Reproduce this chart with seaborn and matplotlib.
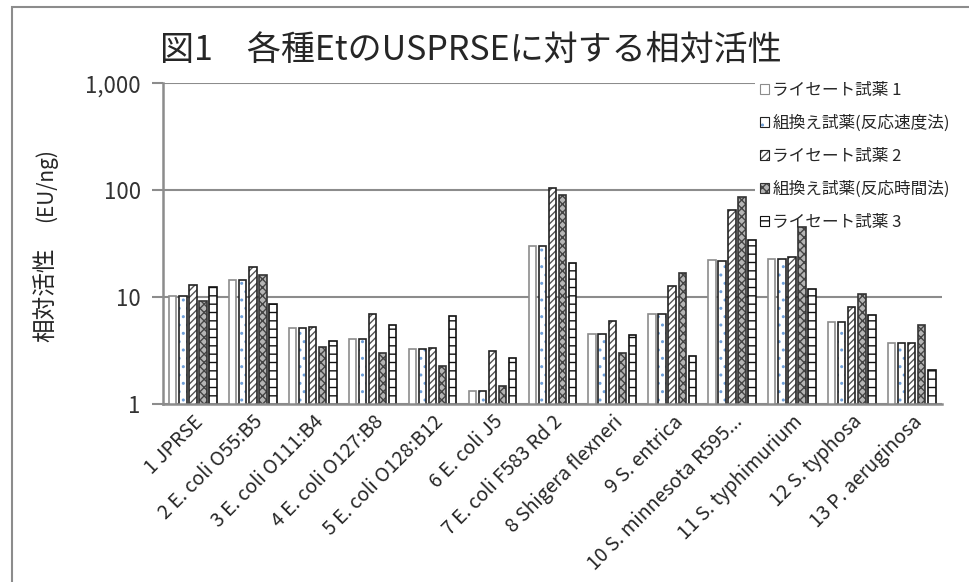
import numpy as np
import pandas as pd
import seaborn as sns
import matplotlib
matplotlib.use("Agg")
import matplotlib.pyplot as plt
from matplotlib.colors import to_rgba
from matplotlib.ticker import FixedLocator, FuncFormatter, NullLocator

strains = ["1 JPRSE", "2 E. coli O55:B5", "3 E. coli O111:B4", "4 E. coli O127:B8",
           "5 E. coli O128:B12", "6 E. coli J5", "7 E. coli F583 Rd 2", "8 Shigera flexneri",
           "9 S. entrica", "10 S. minnesota R595...", "11 S. typhimurium", "12 S. typhosa",
           "13 P. aeruginosa"]
reagents = ["ライセート試薬 1", "組換え試薬(反応速度法)", "ライセート試薬 2",
            "組換え試薬(反応時間法)", "ライセート試薬 3"]

lysate1 = [10.2, 14.4, 5.1, 4.0, 3.25, 1.31, 30.2, 4.5, 6.9, 22.0, 22.5, 5.8, 3.72]
recomb_rate = [10.3, 14.4, 5.1, 4.0, 3.23, 1.31, 30.0, 4.45, 6.9, 21.9, 22.5, 5.8, 3.72]
lysate2 = [12.9, 19.1, 5.25, 6.9, 3.3, 3.1, 104, 5.9, 12.6, 64.6, 23.8, 8.1, 3.66]
recomb_time = [9.2, 16.1, 3.36, 3.0, 2.27, 1.45, 90, 3.0, 16.6, 87, 45.4, 10.6, 5.47]
lysate3 = [12.4, 8.55, 3.9, 5.5, 6.6, 2.67, 20.6, 4.4, 2.8, 34.1, 11.9, 6.8, 2.07]

series = [lysate1, recomb_rate, lysate2, recomb_time, lysate3]
df = pd.DataFrame({
    "strain": np.tile(strains, len(reagents)),
    "reagent": np.repeat(reagents, len(strains)),
    "value": np.concatenate(series),
})

sns.set_style("white")
plt.rcParams["font.family"] = ["Noto Sans CJK JP", "DejaVu Sans"]
plt.rcParams["hatch.linewidth"] = 1.0

fig = plt.figure(figsize=(9.69, 5.82), dpi=100)
ax = fig.add_axes([0.1682, 0.3064, 0.8036, 0.5505])
ax.set_yscale("log")

sns.barplot(data=df, x="strain", y="value", hue="reagent", hue_order=reagents,
            order=strains, width=0.84, gap=0.27, legend=False, ax=ax)

# face, edge, hatch, hatch colour
styles = [
    ("white", "#8c8c8c", None, None),
    ("white", "#222222", "..", "#6f9fd8"),
    ("white", "#222222", "/////", "#555555"),
    ("#b5b5b5", "#333333", "xxxx", "#444444"),
    ("white", "#111111", "--", "#111111"),
]

def style_patch(p, st):
    face, edge, hatch, hcol = st
    p.set_facecolor(face)
    p.set_edgecolor(edge)
    p.set_linewidth(1.2)
    if hatch:
        p.set_hatch(hatch)
        p._hatch_color = to_rgba(hcol)

for cont, st in zip(ax.containers, styles):
    for p in cont:
        style_patch(p, st)
        p.set_zorder(6)  # bars above the legend box, gridlines below it

ax.set_ylim(1, 1000)
ax.set_xlim(-0.5, len(strains) - 0.5)
ax.yaxis.set_major_locator(FixedLocator([1, 10, 100, 1000]))
ax.yaxis.set_minor_locator(NullLocator())
ax.yaxis.set_major_formatter(FuncFormatter(lambda v, pos: f"{int(v):,}"))
ax.grid(axis="y", color="#8c8c8c", linewidth=1.5)
ax.set_axisbelow(True)
for s in ["top", "right"]:
    ax.spines[s].set_visible(False)
for s in ["left", "bottom"]:
    ax.spines[s].set_color("#8c8c8c")
    ax.spines[s].set_linewidth(1.8)
    ax.spines[s].set_zorder(7)
ax.tick_params(axis="y", which="major", left=True, length=8, width=1.5, color="#8c8c8c",
               labelsize=16, labelcolor="#333333", pad=8)
ax.tick_params(axis="x", bottom=False, labelsize=14, pad=2)
plt.setp(ax.get_xticklabels(), rotation=45, ha="right", rotation_mode="anchor")
ax.set_xlabel("")
ax.set_ylabel("")

fig.text(0.0475, 0.493, "相対活性", rotation=90, fontsize=17, ha="center", va="center")
fig.text(0.0475, 0.682, "(EU/ng)", rotation=90, fontsize=15, ha="center", va="center")
fig.text(0.165, 0.914, "図1　各種EtのUSPRSEに対する相対活性", fontsize=24.5,
         ha="left", va="center")

handles = []
for st, lab in zip(styles, reagents):
    h = plt.Rectangle((0, 0), 1, 1, label=lab)
    style_patch(h, st)
    h.set_linewidth(0.8)
    handles.append(h)
leg = ax.legend(handles=handles, loc="upper left", bbox_to_anchor=(755 / 969, 1 - 77 / 582),
                bbox_transform=fig.transFigure, fontsize=12, frameon=True, fancybox=False,
                handlelength=0.55, handleheight=0.55, handletextpad=0.2, labelspacing=0.95,
                borderpad=0.3, borderaxespad=0)
leg.set_zorder(5)
leg.get_frame().set_facecolor("white")
leg.get_frame().set_edgecolor("none")
leg.get_frame().set_alpha(1)

fig.patches.append(plt.Rectangle((12 / 969, -0.05), 1.1, 1.038, transform=fig.transFigure,
                                 fill=False, edgecolor="#8c8c8c", linewidth=1.5))

fig.savefig("out.png", dpi=100)
